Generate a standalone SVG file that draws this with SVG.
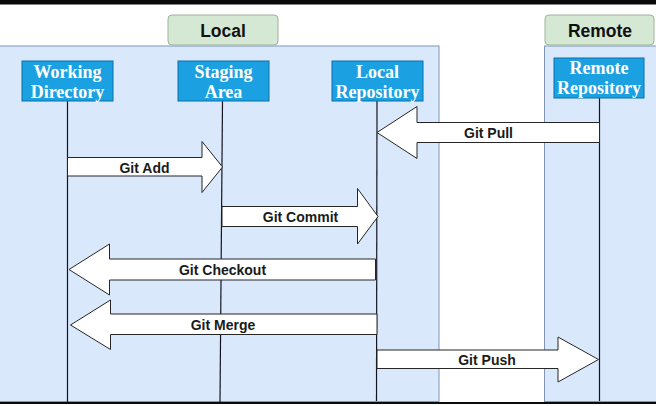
<svg xmlns="http://www.w3.org/2000/svg" width="656" height="406" viewBox="0 0 656 406">
  <style>
    .zone { fill: #dae8fc; stroke: #7f95b3; stroke-width: 1; }
    .zone-title { fill: #d5e8d4; stroke: #9db39a; stroke-width: 1; }
    .zone-text { font-family: "Liberation Sans", Arial, sans-serif; font-size: 17.5px; font-weight: bold; fill: #111; text-anchor: middle; }
    .actor { fill: #1ba1e2; stroke: #0b6fa8; stroke-width: 1; }
    .actor-text { font-family: "Liberation Serif", "Times New Roman", serif; font-size: 18px; font-weight: bold; fill: #ffffff; text-anchor: middle; }
    .lifeline { stroke: #15151f; stroke-width: 1.2; fill: none; }
    .flow { fill: #ffffff; stroke: #262626; stroke-width: 1; stroke-linejoin: miter; }
    .flow-text { font-family: "Liberation Sans", Arial, sans-serif; font-size: 14px; font-weight: bold; fill: #1a1a1a; text-anchor: middle; }
  </style>

  <!-- page background and frame bars -->
  <rect x="0" y="0" width="656" height="406" fill="#ffffff"/>
  <rect x="0" y="0" width="656" height="4.5" fill="#0a0a0a"/>

  <!-- swimlane zones -->
  <g id="zone-local">
    <rect class="zone" x="-2" y="46" width="441" height="355.5"/>
    <rect class="zone-title" x="168" y="15" width="110" height="30" rx="4"/>
    <text class="zone-text" x="223" y="36.5">Local</text>
  </g>
  <g id="zone-remote">
    <rect class="zone" x="544.5" y="46" width="115" height="355.5"/>
    <rect class="zone-title" x="545" y="15" width="109" height="30" rx="4"/>
    <text class="zone-text" x="600" y="36.5">Remote</text>
  </g>

  <!-- lifelines -->
  <g id="connectors">
    <line class="lifeline" x1="67.5" y1="101" x2="67.5" y2="402"/>
    <line class="lifeline" x1="222.5" y1="101" x2="220" y2="402"/>
    <line class="lifeline" x1="377" y1="101" x2="376.5" y2="401"/>
    <line class="lifeline" x1="599.5" y1="98" x2="599.5" y2="401"/>

    <!-- Git Pull: remote -> local repository -->
    <g id="flow-pull">
      <polygon class="flow" points="599.5,122.5 417,122.5 417,106.5 377,132.5 417,158.5 417,142.5 599.5,142.5"/>
      <text class="flow-text" x="488.5" y="138">Git Pull</text>
    </g>
    <!-- Git Add: working directory -> staging -->
    <g id="flow-add">
      <polygon class="flow" points="67.5,157.5 202,157.5 202,141.5 222.5,167 202,192.5 202,176 67.5,176"/>
      <text class="flow-text" x="144.5" y="173">Git Add</text>
    </g>
    <!-- Git Commit: staging -> local repository -->
    <g id="flow-commit">
      <polygon class="flow" points="222,206.5 357.5,206.5 357.5,188.5 378,216.5 357.5,244 357.5,226.5 222,226.5"/>
      <text class="flow-text" x="300.5" y="222">Git Commit</text>
    </g>
    <!-- Git Checkout: local repository -> working directory -->
    <g id="flow-checkout">
      <polygon class="flow" points="375.5,259 109.5,259 109.5,244 69,269.5 109.5,295 109.5,280 375.5,280"/>
      <text class="flow-text" x="222.5" y="275">Git Checkout</text>
    </g>
    <!-- Git Merge: local repository -> working directory -->
    <g id="flow-merge">
      <polygon class="flow" points="377,314 110.5,314 110.5,300 70.5,325 110.5,349.5 110.5,334.5 377,334.5"/>
      <text class="flow-text" x="223" y="330">Git Merge</text>
    </g>
    <!-- Git Push: local repository -> remote -->
    <g id="flow-push">
      <polygon class="flow" points="377,350 558,350 558,337 598.5,359.5 558,382 558,368.5 377,368.5"/>
      <text class="flow-text" x="487" y="365">Git Push</text>
    </g>
  </g>

  <!-- actors -->
  <g id="working-directory">
    <rect class="actor" x="22" y="61" width="91" height="40"/>
    <text class="actor-text" x="67.5" y="77.5">Working</text>
    <text class="actor-text" x="67.5" y="97.5">Directory</text>
  </g>
  <g id="staging-area">
    <rect class="actor" x="178" y="61" width="91" height="40"/>
    <text class="actor-text" x="223.5" y="77.5">Staging</text>
    <text class="actor-text" x="223.5" y="97.5">Area</text>
  </g>
  <g id="local-repository">
    <rect class="actor" x="332" y="61" width="91" height="40"/>
    <text class="actor-text" x="377.5" y="77.5">Local</text>
    <text class="actor-text" x="377.5" y="97.5">Repository</text>
  </g>
  <g id="remote-repository">
    <rect class="actor" x="554" y="58" width="90" height="40"/>
    <text class="actor-text" x="599" y="74">Remote</text>
    <text class="actor-text" x="599" y="94">Repository</text>
  </g>

  <!-- bottom frame bar -->
  <rect x="0" y="402" width="656" height="2" fill="#0a0a0a"/>
</svg>
